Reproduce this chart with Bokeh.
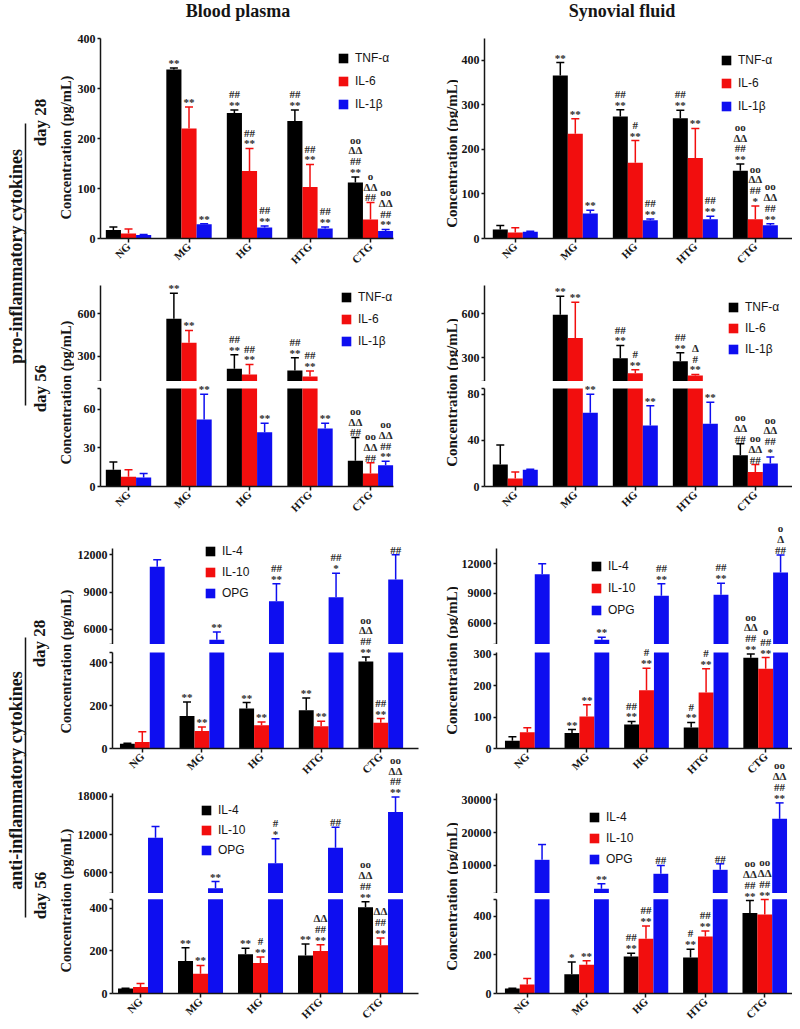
import math
from bokeh.plotting import figure
from bokeh.models import (Range1d, FixedTicker, ColumnDataSource, Label, Legend, LegendItem,
                          CDSView, BooleanFilter)
from bokeh.layouts import column, row
from bokeh.transform import dodge
from bokeh.core.properties import value
from bokeh.embed import file_html
from bokeh.resources import INLINE

# ---------------- data ----------------
groups = ["NG", "MG", "HG", "HTG", "CTG"]
pro_names = ["TNF-α", "IL-6", "IL-1β"]
anti_names = ["IL-4", "IL-10", "OPG"]

# Blood plasma, day 28, pro-inflammatory
bp28_tnf = [17, 338, 251, 235, 112]
bp28_tnf_err = [23, 341, 257, 257, 123]
bp28_il6 = [10, 220, 135, 103, 38]
bp28_il6_err = [19, 263, 180, 148, 72]
bp28_il1b = [7, 28.5, 22, 20, 15]
bp28_il1b_err = [8, 29.5, 25, 23, 18]
bp28_tnf_sig = ["", "**", "##\n**", "##\n**", "oo\nΔΔ\n##\n**"]
bp28_il6_sig = ["", "**", "##\n**", "##\n**", "o\nΔΔ\n##"]
bp28_il1b_sig = ["", "**", "##\n**", "##\n**", "oo\nΔΔ\n##\n**"]

# Synovial fluid, day 28, pro-inflammatory
sf28_tnf = [20, 366, 274, 270, 152]
sf28_tnf_err = [29, 395, 289, 288, 167]
sf28_il6 = [13.5, 235, 170, 181, 43]
sf28_il6_err = [24, 269, 220, 247, 73]
sf28_il1b = [15, 56, 41, 43, 30]
sf28_il1b_err = [16.5, 63.5, 44, 50, 33]
sf28_tnf_sig = ["", "**", "##\n**", "##\n**", "oo\nΔΔ\n##\n**"]
sf28_il6_sig = ["", "**", "#\n**", "**", "oo\nΔΔ\n##\n*"]
sf28_il1b_sig = ["", "**", "##\n**", "##\n**", "oo\nΔΔ\n##\n**"]

# Blood plasma, day 56, pro-inflammatory
bp56_tnf = [13, 565, 214, 201, 20]
bp56_tnf_err = [19, 745, 312, 291, 38]
bp56_il6 = [7.5, 396, 173, 159, 10]
bp56_il6_err = [13, 483, 244, 197, 18.5]
bp56_il1b = [7, 52, 42, 45, 16.5]
bp56_il1b_err = [10, 71.5, 49, 49, 19.5]
bp56_tnf_sig = ["", "**", "##\n**", "##\n**", "oo\nΔΔ\n##"]
bp56_il6_sig = ["", "**", "##\n**", "##\n**", "oo\nΔΔ\n##"]
bp56_il1b_sig = ["", "**", "**", "**", "oo\nΔΔ\n##\n**"]

# Synovial fluid, day 56, pro-inflammatory
sf56_tnf = [19, 593, 297, 277, 27]
sf56_tnf_err = [36, 720, 384, 334, 37]
sf56_il6 = [7, 434, 195, 179, 12.5]
sf56_il6_err = [12.5, 679, 218, 186, 19]
sf56_il1b = [14.5, 64, 53, 54.5, 20]
sf56_il1b_err = [15, 80, 70, 73, 25.5]
sf56_tnf_sig = ["", "**", "##\n**", "##\n**", "oo\nΔΔ\n##"]
sf56_il6_sig = ["", "**", "#\n**", "Δ\n#\n**", "oo\nΔΔ\n##"]
sf56_il1b_sig = ["", "**", "**", "**", "oo\nΔΔ\n##\n*"]

# Blood plasma, day 28, anti-inflammatory
bp28_il4 = [22, 152, 187, 179, 407]
bp28_il4_err = [25, 217, 215, 236, 428]
bp28_il10 = [30, 82, 109, 104, 121]
bp28_il10_err = [78, 101, 124, 127, 140]
bp28_opg = [11050, 5170, 8270, 8590, 10010]
bp28_opg_err = [11600, 5790, 9670, 10520, 12000]
bp28_il4_sig = ["", "**", "**", "**", "oo\nΔΔ\n##\n**"]
bp28_il10_sig = ["", "**", "**", "**", "##\n**"]
bp28_opg_sig = ["", "**", "##\n**", "##\n*", "##"]

# Synovial fluid, day 28, anti-inflammatory
sf28_il4 = [25, 49, 76, 67, 288]
sf28_il4_err = [37, 60, 86, 83, 300]
sf28_il10 = [52, 102, 185, 178, 253]
sf28_il10_err = [66, 139, 255, 253, 289]
sf28_opg = [10950, 4320, 8770, 8870, 11120]
sf28_opg_err = [12000, 4590, 9980, 10040, 12900]
sf28_il4_sig = ["", "**", "##\n**", "#\n**", "oo\nΔΔ\n##\n**"]
sf28_il10_sig = ["", "**", "#\n**", "#\n**", "o\n##\n**"]
sf28_opg_sig = ["", "**", "##\n**", "##\n**", "o\nΔ\n##"]

# Blood plasma, day 56, anti-inflammatory
bp56_il4 = [23, 153, 184, 179, 405]
bp56_il4_err = [25, 215, 213, 233, 431]
bp56_il10 = [31, 93, 143, 199, 226]
bp56_il10_err = [47, 132, 171, 229, 261]
bp56_opg = [11510, 3575, 7510, 9940, 15540]
bp56_opg_err = [13290, 4630, 11350, 13180, 17900]
bp56_il4_sig = ["", "**", "**", "**", "oo\nΔΔ\n##\n**"]
bp56_il10_sig = ["", "**", "#\n**", "ΔΔ\n##\n**", "ΔΔ\n##\n**"]
bp56_opg_sig = ["", "**", "#\n*", "##", "oo\nΔΔ\n##\n**"]

# Synovial fluid, day 56, anti-inflammatory
sf56_il4 = [26, 100, 191, 186, 415]
sf56_il4_err = [27, 162, 208, 229, 480]
sf56_il10 = [46, 149, 282, 294, 408]
sf56_il10_err = [77, 169, 349, 323, 485]
sf56_opg = [11730, 2920, 7480, 8690, 24200]
sf56_opg_err = [16380, 4440, 10000, 10520, 29060]
sf56_il4_sig = ["", "*", "##\n**", "#\n**", "oo\nΔΔ\n##\n**"]
sf56_il10_sig = ["", "**", "##\n**", "##\n**", "oo\nΔΔ\n##\n**"]
sf56_opg_sig = ["", "**", "##", "##", "oo\nΔΔ\n##\n**"]

# ---------------- style ----------------
SERIF = "Liberation Serif"
SANS = "Liberation Sans"
COLORS = ["#000000", "#F20E0E", "#0E0EF0"]
OFFS = [-0.25, 0.0, 0.25]
BAR_W = 0.25
INK = "#151515"
COL_LEFT = {1: 74, 2: 458}
COL_W = {1: 345, 2: 334}


# F: y of the segment top, Bc: canvas bottom, bb: bottom border,
# ext: transparent room above the segment top (overlaps the canvas above)
def seg(F, Bc, bb, ext, b0, b1, ticks, blank, upper):
    return dict(F=F, Bc=Bc, bb=bb, ext=ext, b0=b0, b1=b1, ticks=ticks, blank=blank, upper=upper)


panels = [
    dict(col=1, fl=100, fr=393, x0=-0.463, x1=4.380, names=pro_names,
         vals=[bp28_tnf, bp28_il6, bp28_il1b], errs=[bp28_tnf_err, bp28_il6_err, bp28_il1b_err],
         sigs=[bp28_tnf_sig, bp28_il6_sig, bp28_il1b_sig], legend=(237, 127, 9),
         segs=[seg(38, 276, 38, 10, 0, 400, [0, 100, 200, 300, 400], [], False)]),
    dict(col=2, fl=482, fr=792, x0=-0.513, x1=4.619, names=pro_names,
         vals=[sf28_tnf, sf28_il6, sf28_il1b], errs=[sf28_tnf_err, sf28_il6_err, sf28_il1b_err],
         sigs=[sf28_tnf_sig, sf28_il6_sig, sf28_il1b_sig], legend=(236, 125, 9),
         segs=[seg(38, 276, 38, 10, 0, 449, [0, 100, 200, 300, 400], [], False)]),
    dict(col=1, fl=100, fr=393, x0=-0.463, x1=4.380, names=pro_names,
         vals=[bp56_tnf, bp56_il6, bp56_il1b], errs=[bp56_tnf_err, bp56_il6_err, bp56_il1b_err],
         sigs=[bp56_tnf_sig, bp56_il6_sig, bp56_il1b_sig], legend=(240, 33, 8),
         segs=[seg(285, 381, 0, 9, 124, 799, [124, 300, 600], [124], True),
               seg(388, 522, 36, 50, 0, 76, [0, 30, 60, 76], [76], False)]),
    dict(col=2, fl=482, fr=792, x0=-0.513, x1=4.619, names=pro_names,
         vals=[sf56_tnf, sf56_il6, sf56_il1b], errs=[sf56_tnf_err, sf56_il6_err, sf56_il1b_err],
         sigs=[sf56_tnf_sig, sf56_il6_sig, sf56_il1b_sig], legend=(243, 25, 7),
         segs=[seg(285, 381, 0, 9, 138, 793, [138, 300, 600], [138], True),
               seg(388, 522, 36, 50, 0, 85, [0, 40, 80, 85], [85], False)]),
    dict(col=1, fl=110, fr=418, x0=-0.5, x1=4.633, names=anti_names,
         vals=[bp28_il4, bp28_il10, bp28_opg], errs=[bp28_il4_err, bp28_il10_err, bp28_opg_err],
         sigs=[bp28_il4_sig, bp28_il10_sig, bp28_opg_sig], legend=(92, 44, 7),
         segs=[seg(548, 644, 0, 20, 4795, 12506, [4795, 6000, 9000, 12000], [4795], True),
               seg(652, 786, 38, 50, 0, 449, [0, 200, 400, 449], [449], False)]),
    dict(col=2, fl=494, fr=792, x0=-0.517, x1=4.45, names=anti_names,
         vals=[sf28_il4, sf28_il10, sf28_opg], errs=[sf28_il4_err, sf28_il10_err, sf28_opg_err],
         sigs=[sf28_il4_sig, sf28_il10_sig, sf28_opg_sig], legend=(94, 27, 8),
         segs=[seg(548, 644, 0, 30, 3848, 13545, [3848, 6000, 9000, 12000], [3848], True),
               seg(652, 786, 38, 50, 0, 305, [0, 100, 200, 300], [], False)]),
    dict(col=1, fl=112, fr=418, x0=-0.467, x1=4.633, names=anti_names,
         vals=[bp56_il4, bp56_il10, bp56_opg], errs=[bp56_il4_err, bp56_il10_err, bp56_opg_err],
         sigs=[bp56_il4_sig, bp56_il10_sig, bp56_opg_sig], legend=(88, 36, 6),
         segs=[seg(793, 893, 0, 45, 2745, 18468, [2745, 6000, 12000, 18000], [2745], True),
               seg(899, 1028, 34, 50, 0, 443, [0, 200, 400, 443], [443], False)]),
    dict(col=2, fl=493, fr=792, x0=-0.517, x1=4.467, names=anti_names,
         vals=[sf56_il4, sf56_il10, sf56_opg], errs=[sf56_il4_err, sf56_il10_err, sf56_opg_err],
         sigs=[sf56_il4_sig, sf56_il10_sig, sf56_opg_sig], legend=(92, 27, 7),
         segs=[seg(793, 893, 0, 45, 1476, 31917, [1476, 10000, 20000, 30000], [1476], True),
               seg(899, 1028, 34, 50, 0, 487, [0, 200, 400, 487], [487], False)]),
]


def style_axis(ax, size, tick_out):
    ax.axis_line_width = 1.5
    ax.axis_line_color = INK
    ax.major_tick_line_width = 1.5
    ax.major_tick_line_color = INK
    ax.major_tick_in = 0
    ax.major_tick_out = tick_out
    ax.minor_tick_line_color = None
    ax.major_label_text_font = SERIF
    ax.major_label_text_font_style = "bold"
    ax.major_label_text_font_size = size
    ax.major_label_text_color = INK
    ax.major_label_standoff = 2


def view_of(mask):
    return CDSView(filter=BooleanFilter(mask))


col_figs = {1: [], 2: []}
flow = {}

for pi, P in enumerate(panels):
    key = (P["col"], 0 if pi < 4 else 1)
    if key not in flow:
        flow[key] = 28 if pi < 4 else 522
    xr = Range1d(P["x0"], P["x1"])
    data = dict(g=list(range(len(groups))))
    for k in range(3):
        data[f"v{k}"] = P["vals"][k]
        data[f"e{k}"] = P["errs"][k]
    src = ColumnDataSource(data)
    left = COL_LEFT[P["col"]]
    W = COL_W[P["col"]]
    for si, s in enumerate(P["segs"]):
        ctop = s["F"] - s["ext"]
        height = s["Bc"] - ctop
        margin = ctop - flow[key]
        flow[key] = s["Bc"]
        upp = (s["b1"] - s["b0"]) / (s["Bc"] - s["bb"] - s["F"])
        kw = {"styles": {"margin-top": f"{margin}px"}} if margin != 0 else {}
        p = figure(width=W, height=height, x_range=xr,
                   y_range=Range1d(s["b0"], s["b1"] + s["ext"] * upp),
                   output_backend="svg", toolbar_location=None,
                   x_axis_location=None if s["upper"] else "below", y_axis_location="left",
                   min_border_left=P["fl"] - left, min_border_right=left + W - P["fr"],
                   min_border_top=0, min_border_bottom=s["bb"], **kw)
        p.outline_line_color = None
        p.grid.visible = False
        p.background_fill_color = None
        p.border_fill_color = None
        ya = p.yaxis[0]
        ya.ticker = FixedTicker(ticks=s["ticks"])
        ya.bounds = (s["b0"], s["b1"])
        if s["blank"]:
            ya.major_label_overrides = {t: "" for t in s["blank"]}
        style_axis(ya, "12px", 3)
        if not s["upper"]:
            xa = p.xaxis[0]
            xa.ticker = FixedTicker(ticks=list(range(len(groups))))
            xa.major_label_overrides = {i: gname for i, gname in enumerate(groups)}
            style_axis(xa, "11px", 4)
            xa.major_label_orientation = math.pi / 4
        rs = []
        for k in range(3):
            xs = dodge("g", OFFS[k], range=xr)
            if s["upper"]:
                r = p.vbar(x=xs, top=f"v{k}", bottom=0, width=BAR_W, source=src,
                           fill_color=COLORS[k], line_color=None)
                p.segment(x0=xs, y0=f"v{k}", x1=xs, y1=f"e{k}", source=src,
                          line_color=COLORS[k], line_width=1.5)
                p.scatter(x=xs, y=f"e{k}", marker="dash", size=8, line_color=COLORS[k],
                          line_width=1.5, source=src)
            else:
                inside = [v <= s["b1"] for v in P["vals"][k]]
                over = [not m for m in inside]
                r = p.vbar(x=xs, top=f"v{k}", bottom=0, width=BAR_W, source=src, view=view_of(inside),
                           fill_color=COLORS[k], line_color=None)
                # bars that continue in the upper segment reach the top of this segment
                p.vbar(x=xs, top=s["b1"], bottom=0, width=BAR_W, source=src, view=view_of(over),
                       fill_color=COLORS[k], line_color=None)
                p.segment(x0=xs, y0=f"v{k}", x1=xs, y1=f"e{k}", source=src, view=view_of(inside),
                          line_color=COLORS[k], line_width=1.5)
                p.scatter(x=xs, y=f"e{k}", marker="dash", size=8, line_color=COLORS[k],
                          line_width=1.5, source=src, view=view_of(inside))
            rs.append(r)
        if si == 0:
            lx, ly, sp = P["legend"]
            leg = Legend(items=[LegendItem(label=value(n), renderers=[r]) for n, r in zip(P["names"], rs)],
                         location=(lx, ly), spacing=int(round(sp)), padding=0, margin=0,
                         glyph_width=12, glyph_height=12, label_height=12, label_standoff=6,
                         label_text_font=SANS, label_text_font_size="12px", label_text_color=INK,
                         border_line_color=None, background_fill_alpha=0)
            p.add_layout(leg)
        # significance marks above the error bars that end in this segment
        last = si == len(P["segs"]) - 1
        for k in range(3):
            for i in range(len(groups)):
                t = P["sigs"][k][i]
                e = P["errs"][k][i]
                if not t:
                    continue
                in_lower = len(P["segs"]) == 1 or e <= P["segs"][-1]["b1"]
                if in_lower != last:
                    continue
                p.add_layout(Label(x=i + OFFS[k], y=e, text=t, text_align="center",
                                   text_baseline="bottom", y_offset=-1, text_font=SERIF,
                                   text_font_style="bold", text_font_size="11px",
                                   text_line_height=0.9, text_color="#2a2a2a"))
        col_figs[P["col"]].append(p)


# ---------------- text-only figures ----------------
def blank_fig(w, h):
    p = figure(width=w, height=h, x_range=Range1d(0, w), y_range=Range1d(0, h),
               output_backend="svg", toolbar_location=None,
               x_axis_location=None, y_axis_location=None, min_border=0)
    p.outline_line_color = None
    p.grid.visible = False
    p.background_fill_color = None
    p.border_fill_color = None
    return p


def put_text(p, h, x, ytop, txt, size, angle=0.0):
    p.text(x=[x], y=[h - ytop], text=[txt], angle=angle, text_align="center",
           text_baseline="middle", text_font=value(SERIF), text_font_style="bold",
           text_font_size=size, text_color=INK)


title_fig = blank_fig(792, 28)
put_text(title_fig, 28, 237.5, 10, "Blood plasma", "18px")
put_text(title_fig, 28, 621.5, 10, "Synovial fluid", "18px")

CONC = "Concentration (pg/mL)"
V = math.pi / 2

H_PRO = 494
left_pro = blank_fig(74, H_PRO)
put_text(left_pro, H_PRO, 15, 228, "pro-inflammatory cytokines", "18px", V)
left_pro.segment(x0=[25], y0=[H_PRO - 95], x1=[25], y1=[H_PRO - 377], line_color=INK, line_width=1.5)
put_text(left_pro, H_PRO, 40, 94, "day 28", "17px", V)
put_text(left_pro, H_PRO, 40, 360, "day 56", "17px", V)
put_text(left_pro, H_PRO, 65, 119, CONC, "14.5px", V)
put_text(left_pro, H_PRO, 65, 364, CONC, "14.5px", V)

mid_pro = blank_fig(39, H_PRO)
put_text(mid_pro, H_PRO, 32, 125, CONC, "15px", V)
put_text(mid_pro, H_PRO, 32, 364, CONC, "15px", V)

H_ANTI = 499
left_anti = blank_fig(74, H_ANTI)
put_text(left_anti, H_ANTI, 15, 258, "anti-inflammatory cytokines", "18px", V)
left_anti.segment(x0=[25], y0=[H_ANTI - 115], x1=[25], y1=[H_ANTI - 395], line_color=INK, line_width=1.5)
put_text(left_anti, H_ANTI, 39, 121, "day 28", "17px", V)
put_text(left_anti, H_ANTI, 40, 373, "day 56", "17px", V)
put_text(left_anti, H_ANTI, 65, 139, CONC, "14.5px", V)
put_text(left_anti, H_ANTI, 65, 378, CONC, "14.5px", V)

mid_anti = blank_fig(39, H_ANTI)
put_text(mid_anti, H_ANTI, 32, 138, CONC, "15px", V)
put_text(mid_anti, H_ANTI, 32, 374, CONC, "15px", V)

c1 = col_figs[1]
c2 = col_figs[2]
layout = column(
    title_fig,
    row(left_pro, column(c1[0], c1[1], c1[2]), mid_pro, column(c2[0], c2[1], c2[2])),
    row(left_anti, column(c1[3], c1[4], c1[5], c1[6]), mid_anti, column(c2[3], c2[4], c2[5], c2[6])),
)

open("out.html", "w").write(file_html(layout, INLINE))
